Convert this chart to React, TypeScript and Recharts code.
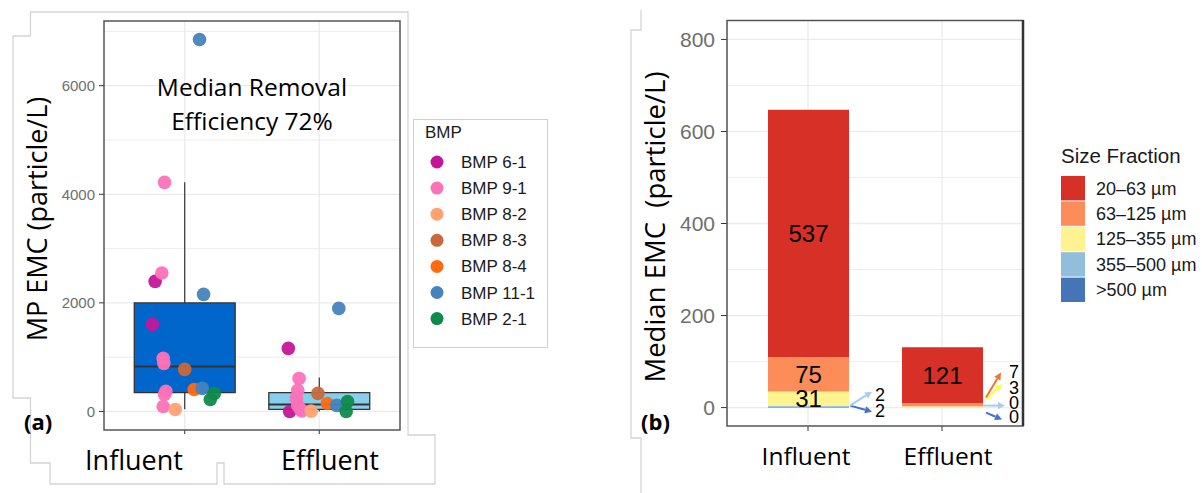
import React from 'react';
import {
  ComposedChart,
  BarChart,
  Bar,
  Scatter,
  XAxis,
  YAxis,
  ReferenceArea,
  ReferenceLine,
  LabelList,
  CartesianGrid,
} from 'recharts';

// ---------------- DATA ----------------
const CATEGORIES = ['Influent', 'Effluent'];
const BMP_NAMES = ['BMP 6-1', 'BMP 9-1', 'BMP 8-2', 'BMP 8-3', 'BMP 8-4', 'BMP 11-1', 'BMP 2-1'];

// Panel (a): individual EMCs (particle/L), BMP index and horizontal jitter
const INF_BMP = [0, 0, 1, 1, 1, 1, 1, 1, 1, 2, 3, 4, 5, 5, 5, 6, 6];
const INF_VALUE = [2396, 1604, 4220, 2550, 977, 885, 369, 313, 92, 37, 774, 405, 6850, 2157, 424, 332, 221];
const INF_JITTER = [-0.22, -0.24, -0.15, -0.17, -0.16, -0.155, -0.14, -0.15, -0.16, -0.07, 0, 0.07, 0.11, 0.14, 0.13, 0.22, 0.19];

const EFF_BMP = [0, 0, 1, 1, 1, 1, 1, 1, 2, 3, 4, 5, 5, 6, 6];
const EFF_VALUE = [1161, 0, 608, 387, 240, 111, 40, 10, 5, 332, 147, 1898, 111, 184, 0];
const EFF_JITTER = [-0.23, -0.22, -0.15, -0.16, -0.17, -0.16, -0.14, -0.13, -0.06, -0.01, 0.06, 0.145, 0.13, 0.21, 0.2];

// box statistics: [lower whisker, Q1, median, Q3, upper whisker]
const INF_BOX = [40, 345, 830, 1998, 4220];
const EFF_BOX = [0, 37, 129, 345, 627];

const A_Y_TICKS = [0, 2000, 4000, 6000];
const A_Y_MINOR = [1000, 3000, 5000, 7000];

// Panel (b): median EMC by size fraction
const SIZE_FRACTIONS = ['20–63 µm', '63–125 µm', '125–355 µm', '355–500 µm', '>500 µm'];
const INFLUENT_MEDIAN = [537, 75, 31, 2, 2];
const EFFLUENT_MEDIAN = [121, 7, 3, 0, 0];
const B_Y_TICKS = [0, 200, 400, 600, 800];
const B_Y_MINOR = [100, 300, 500, 700];

// ---------------- STYLE ----------------
const BMP_COLORS = ['#c5169a', '#fb72b8', '#ffa272', '#c8693c', '#ff6a10', '#4583bd', '#0f8a4b'];
const FRACTION_COLORS = ['#d73027', '#fc8d59', '#fff38f', '#91bfdb', '#4575b4'];
const ARROW_COLORS = ['#d73027', '#ee7433', '#ffff3a', '#a9cdee', '#4472c4'];
const BOX_FILLS = ['#0066cc', '#87ceeb'];
const GRID = '#ebebeb';
const TICK_GRAY = '#6e6e6e';
const SANS = '"Liberation Sans", Arial, sans-serif';
const TITLE = '"Open Sans", "Noto Sans", sans-serif';

// annotation offsets for tiny segments: key = fractionIdx-categoryIdx
const ANNOT: Record<string, { sdx: number; sdy: number; edx: number; edy: number; tdx: number; tdy: number }> = {
  '3-0': { sdx: 1, sdy: -0.5, edx: 23, edy: -14.5, tdx: 26, tdy: -11 },
  '4-0': { sdx: 1, sdy: -1.5, edx: 23, edy: 4.5, tdx: 26, tdy: 3.5 },
  '1-1': { sdx: 3, sdy: -7, edx: 18, edy: -32, tdx: 26, tdy: -32.5 },
  '2-1': { sdx: 3, sdy: -7, edx: 19, edy: -23, tdx: 26, tdy: -19 },
  '3-1': { sdx: 0, sdy: -2, edx: 22, edy: -2, tdx: 26, tdy: -5 },
  '4-1': { sdx: 3, sdy: 5, edx: 19, edy: 12, tdx: 26, tdy: 9.5 },
};

const bmpSeries = BMP_NAMES.map((_, b) => {
  const pts: { x: number; y: number }[] = [];
  INF_VALUE.forEach((v, i) => {
    if (INF_BMP[i] === b) pts.push({ x: 1 + INF_JITTER[i], y: v });
  });
  EFF_VALUE.forEach((v, i) => {
    if (EFF_BMP[i] === b) pts.push({ x: 2 + EFF_JITTER[i], y: v });
  });
  return pts;
});

const CAT_VALUES = [INFLUENT_MEDIAN, EFFLUENT_MEDIAN];

const barData = CATEGORIES.map((c, ci) => {
  const row: Record<string, number | string> = { cat: c };
  SIZE_FRACTIONS.forEach((_, fi) => {
    row['f' + fi] = CAT_VALUES[ci][fi];
  });
  return row;
});

const EmptyTick = () => <g />;

const dotShape = (color: string) => (p: any) => (
  <circle cx={p.cx} cy={p.cy} r={6.8} fill={color} fillOpacity={0.95} />
);

function Arrow({ x1, y1, x2, y2, color }: { x1: number; y1: number; x2: number; y2: number; color: string }) {
  const ang = Math.atan2(y2 - y1, x2 - x1);
  const hl = 7;
  const hw = 3.6;
  const bx = x2 - hl * Math.cos(ang);
  const by = y2 - hl * Math.sin(ang);
  const px = -Math.sin(ang) * hw;
  const py = Math.cos(ang) * hw;
  return (
    <g>
      <line x1={x1} y1={y1} x2={bx} y2={by} stroke={color} strokeWidth={2} />
      <polygon points={`${x2},${y2} ${bx + px},${by + py} ${bx - px},${by - py}`} fill={color} />
    </g>
  );
}

function Annotation({ fi, ci, R, yc, value }: { fi: number; ci: number; R: number; yc: number; value: number }) {
  const a = ANNOT[`${fi}-${ci}`];
  if (!a) return null;
  return (
    <g>
      <Arrow x1={R + a.sdx} y1={yc + a.sdy} x2={R + a.edx} y2={yc + a.edy} color={ARROW_COLORS[fi]} />
      <text x={R + a.tdx} y={yc + a.tdy} dominantBaseline="central" fontSize={18} fontFamily={SANS} fill="#000">
        {value}
      </text>
    </g>
  );
}

const makeBarLabel = (fi: number) => (props: any) => {
  const vb = props.viewBox || {};
  const x = Number(props.x ?? vb.x);
  const y = Number(props.y ?? vb.y);
  const w = Number(props.width ?? vb.width);
  const h = Number(props.height ?? vb.height);
  const value = Number(props.value);
  const ci = Number(props.index);
  if (!isFinite(x) || !isFinite(y)) return null;
  const vals = CAT_VALUES[ci] || [];
  const R = x + w;
  const out: React.ReactNode[] = [];
  if (value >= 10) {
    out.push(
      <text key="c" x={x + w / 2} y={y + h / 2} textAnchor="middle" dominantBaseline="central" fontSize={24} fontFamily={SANS} fill="#000">
        {value}
      </text>
    );
  } else if (value > 0) {
    out.push(<Annotation key="a" fi={fi} ci={ci} R={R} yc={y + h / 2} value={value} />);
  }
  // zero-height segments below this one (not drawn by the library): anchor at this segment's base
  if (value > 0) {
    const below = vals.slice(fi + 1);
    if (below.length && below.every((v) => v === 0)) {
      below.forEach((v, k) => {
        out.push(<Annotation key={'z' + k} fi={fi + 1 + k} ci={ci} R={R} yc={y + h} value={v} />);
      });
    }
  }
  return <g>{out}</g>;
};

function BoxPlot(stats: number[], center: number, fill: string, key: string) {
  const hw = 0.375;
  return [
    <ReferenceLine key={key + 'wu'} segment={[{ x: center, y: stats[3] }, { x: center, y: stats[4] }]} stroke="#333" strokeWidth={1.2} />,
    <ReferenceLine key={key + 'wl'} segment={[{ x: center, y: stats[0] }, { x: center, y: stats[1] }]} stroke="#333" strokeWidth={1.2} />,
    <ReferenceArea key={key + 'box'} x1={center - hw} x2={center + hw} y1={stats[1]} y2={stats[3]} fill={fill} fillOpacity={1} stroke="#333" strokeWidth={1.3} />,
    <ReferenceLine key={key + 'med'} segment={[{ x: center - hw, y: stats[2] }, { x: center + hw, y: stats[2] }]} stroke="#333" strokeWidth={2} />,
  ];
}

function PanelA() {
  return (
    <ComposedChart width={420} height={493} margin={{ top: 21, right: 20, bottom: 33, left: 0 }}>
      <CartesianGrid stroke={GRID} strokeWidth={0.9} horizontalValues={A_Y_MINOR} vertical={false} />
      <CartesianGrid stroke={GRID} strokeWidth={1.3} horizontalValues={A_Y_TICKS} verticalValues={[1, 2]} />
      <XAxis
        type="number"
        dataKey="x"
        domain={[0.4, 2.6]}
        ticks={[1, 2]}
        allowDataOverflow
        tick={EmptyTick}
        tickSize={4}
        tickLine={{ stroke: '#333' }}
        axisLine={false}
        height={30}
      />
      <YAxis
        type="number"
        dataKey="y"
        domain={[-342, 7192]}
        ticks={A_Y_TICKS}
        allowDataOverflow
        width={104}
        tickSize={5}
        tickMargin={4}
        tickLine={{ stroke: '#333' }}
        axisLine={false}
        tick={{ fill: TICK_GRAY, fontSize: 15, fontFamily: SANS }}
      />
      {BoxPlot(INF_BOX, 1, BOX_FILLS[0], 'inf')}
      {BoxPlot(EFF_BOX, 2, BOX_FILLS[1], 'eff')}
      {bmpSeries.map((pts, b) => (
        <Scatter
          key={BMP_NAMES[b]}
          name={BMP_NAMES[b]}
          data={pts}
          isAnimationActive={false}
          shape={dotShape(BMP_COLORS[b])}
        />
      ))}
    </ComposedChart>
  );
}

function PanelB() {
  return (
    <BarChart width={420} height={493} data={barData} margin={{ top: 21, right: 17, bottom: 37, left: 0 }} barSize={81}>
      <CartesianGrid stroke={GRID} strokeWidth={0.9} horizontalValues={B_Y_MINOR} vertical={false} />
      <CartesianGrid stroke={GRID} strokeWidth={1.3} horizontalValues={B_Y_TICKS} />
      <XAxis
        dataKey="cat"
        padding={{ left: 14, right: 14 }}
        tick={EmptyTick}
        tickSize={5}
        tickLine={{ stroke: '#333' }}
        axisLine={false}
        height={30}
      />
      <YAxis
        type="number"
        domain={[-40, 840]}
        ticks={B_Y_TICKS}
        allowDataOverflow
        width={107}
        tickSize={6}
        tickMargin={6}
        tickLine={{ stroke: '#333' }}
        axisLine={false}
        tick={{ fill: TICK_GRAY, fontSize: 21, fontFamily: SANS }}
      />
      {[4, 3, 2, 1, 0].map((fi) => (
        <Bar key={'f' + fi} dataKey={'f' + fi} stackId="s" fill={FRACTION_COLORS[fi]} isAnimationActive={false}>
          <LabelList dataKey={'f' + fi} content={makeBarLabel(fi)} />
        </Bar>
      ))}
    </BarChart>
  );
}

function Overlay() {
  const deco = '#d4d4d4';
  const polyA = [
    [30.5, 36], [30.5, 12], [408, 12], [408, 435], [435, 435], [435, 484], [224, 484], [224, 463], [217, 463], [217, 484], [50, 484], [50, 463], [30.5, 463], [30.5, 398], [13, 398], [13, 36], [30.5, 36],
  ];
  const polyB = [[641, 10], [641, 30], [631, 30], [631, 438], [641, 438], [641, 493]];
  return (
    <svg width={1202} height={493} style={{ position: 'absolute', left: 0, top: 0, pointerEvents: 'none' }}>
      <polyline points={polyA.map((p) => p.join(',')).join(' ')} fill="none" stroke={deco} strokeWidth={1.3} />
      <polyline points={polyB.map((p) => p.join(',')).join(' ')} fill="none" stroke={deco} strokeWidth={1.3} />

      {/* panel frames */}
      <rect x={104} y={21} width={296} height={409} fill="none" stroke="#555" strokeWidth={1.5} />
      <rect x={727} y={20.5} width={296} height={405.5} fill="none" stroke="#555" strokeWidth={1.5} />
      <line x1={1023} y1={20} x2={1023} y2={426} stroke="#333" strokeWidth={2.5} />

      {/* panel (a) texts */}
      <text x={252} y={96} textAnchor="middle" fontSize={24.5} fontFamily={TITLE} fill="#000">Median Removal</text>
      <text x={252} y={130} textAnchor="middle" fontSize={24.5} fontFamily={TITLE} fill="#000">Efficiency 72%</text>
      <text transform="translate(47,219) rotate(-90)" textAnchor="middle" fontSize={27} fontFamily={TITLE} fill="#000">MP EMC (particle/L)</text>
      <text x={24} y={430} fontSize={22} fontWeight="bold" fontFamily={TITLE} fill="#000">(a)</text>
      <text x={134} y={470} textAnchor="middle" fontSize={27} fontFamily={TITLE} fill="#000">Influent</text>
      <text x={330} y={470} textAnchor="middle" fontSize={27} fontFamily={TITLE} fill="#000">Effluent</text>

      {/* legend (a) */}
      <rect x={413.5} y={119.5} width={134} height={228} fill="#fff" stroke="#d0d0d0" strokeWidth={1} />
      <text x={425} y={138} fontSize={17} fontFamily={SANS} fill="#1a1a1a">BMP</text>
      {BMP_NAMES.map((n, i) => (
        <g key={n}>
          <circle cx={437} cy={162 + i * 26.1} r={6.5} fill={BMP_COLORS[i]} />
          <text x={461} y={162 + i * 26.1 + 6} fontSize={17} fontFamily={SANS} fill="#1a1a1a">{n}</text>
        </g>
      ))}

      {/* panel (b) texts */}
      <text transform="translate(665,227) rotate(-90)" textAnchor="middle" fontSize={27.5} fontFamily={TITLE} fill="#000" style={{ whiteSpace: 'pre' }}>{'Median EMC  (particle/L)'}</text>
      <text x={641} y={430} fontSize={22} fontWeight="bold" fontFamily={TITLE} fill="#000">(b)</text>
      <text x={806} y={465} textAnchor="middle" fontSize={24.5} fontFamily={TITLE} fill="#000">Influent</text>
      <text x={948} y={465} textAnchor="middle" fontSize={24.5} fontFamily={TITLE} fill="#000">Effluent</text>

      {/* legend (b) */}
      <text x={1061} y={163} fontSize={20.5} fontFamily={SANS} fill="#1a1a1a">Size Fraction</text>
      {SIZE_FRACTIONS.map((s, i) => (
        <g key={s}>
          <rect x={1061} y={176 + i * 25.4} width={24} height={24.4} fill={FRACTION_COLORS[i]} />
          <text x={1096} y={176 + i * 25.4 + 18.5} fontSize={18} fontFamily={SANS} fill="#1a1a1a">{s}</text>
        </g>
      ))}
    </svg>
  );
}

export default function App() {
  return (
    <div style={{ position: 'absolute', left: 0, top: 0, width: 1202, height: 493, background: '#fff', overflow: 'hidden' }}>
      <div style={{ position: 'absolute', left: 0, top: 0 }}>
        <PanelA />
      </div>
      <div style={{ position: 'absolute', left: 620, top: 0 }}>
        <PanelB />
      </div>
      <Overlay />
    </div>
  );
}
